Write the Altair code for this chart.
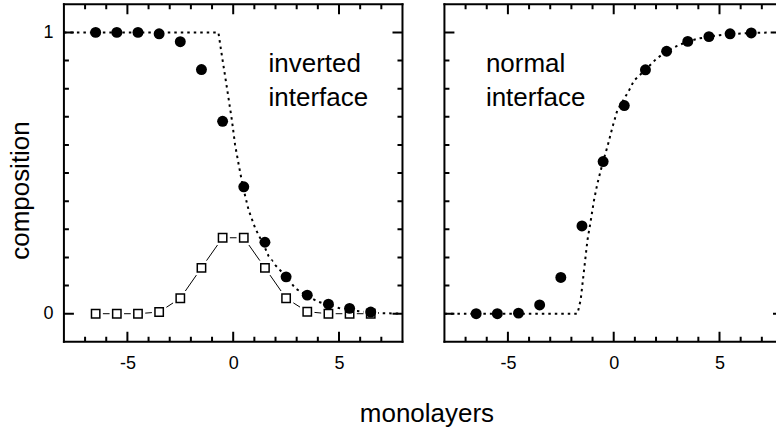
import altair as alt
import pandas as pd

# ---------------- data ----------------
X_PTS = [-6.5, -5.5, -4.5, -3.5, -2.5, -1.5, -0.5, 0.5, 1.5, 2.5, 3.5, 4.5, 5.5, 6.5]

INV_FILLED = [1.0, 1.0, 1.0, 0.995, 0.967, 0.868, 0.684, 0.451, 0.254, 0.131, 0.066, 0.034, 0.019, 0.006]
INV_OPEN = [0.0, 0.0, 0.0, 0.006, 0.055, 0.163, 0.270, 0.270, 0.163, 0.055, 0.007, 0.0, 0.0, 0.0]
NORM_FILLED = [0.0, 0.0, 0.002, 0.031, 0.129, 0.312, 0.541, 0.740, 0.867, 0.933, 0.968, 0.985, 0.995, 0.998]

INV_MODEL_X = [-8, -0.7, -0.54, -0.3, -0.06, 0.09, 0.25, 0.46, 0.73, 1.04, 1.5, 1.67, 2.0,
               2.5, 2.94, 3.5, 3.97, 4.5, 5.0, 5.5, 6.0, 6.5, 7.0, 8.0]
INV_MODEL_Y = [1.0, 1.0, 0.92, 0.805, 0.687, 0.60, 0.534, 0.451, 0.368, 0.304, 0.235, 0.205, 0.172,
               0.132, 0.09, 0.063, 0.044, 0.03, 0.02, 0.013, 0.008, 0.004, 0.002, 0.0]

NORM_MODEL_X = [-8, -1.71, -1.56, -1.40, -1.24, -1.08, -0.93, -0.77, -0.61, -0.45, -0.30, -0.06,
                0.17, 0.5, 0.72, 0.96, 1.5, 2.0, 2.5, 3.0, 3.5, 4.0, 4.5, 5.0, 5.5, 6.0, 6.5, 7.0, 8.0]
NORM_MODEL_Y = [0.0, 0.0, 0.05, 0.156, 0.262, 0.333, 0.404, 0.463, 0.51, 0.555, 0.593, 0.663,
                0.723, 0.765, 0.793, 0.829, 0.867, 0.905, 0.933, 0.952, 0.968, 0.978, 0.985, 0.99,
                0.994, 0.996, 0.998, 0.999, 1.0]

LABELS_LEFT = ["inverted", "interface"]
LABELS_RIGHT = ["normal", "interface"]
LABEL_X_LEFT = [1.67, 1.67]
LABEL_X_RIGHT = [-6.04, -6.04]
LABEL_Y = [0.86, 0.737]

X_MAJOR = [-5, 0, 5]
X_MINOR = [-7, -6, -4, -3, -2, -1, 1, 2, 3, 4, 6, 7]
Y_MAJOR = [0, 1]
Y_MINOR = [0.1, 0.2, 0.3, 0.4, 0.5, 0.6, 0.7, 0.8, 0.9]

# ---------------- styling ----------------
FONT = "Liberation Sans"
W, H = 339, 338          # full panel size
W_RIGHT = 332            # right panel is cut off by the picture's edge
XDOM = [-8, 8]
XDOM_RIGHT = [-8, -8 + 16 * W_RIGHT / W]
YDOM = [-0.1, 1.1]

yscale = alt.Scale(domain=YDOM, nice=False, zero=False)

xaxis = alt.Axis(values=X_MAJOR, ticks=False, tickSize=0, domain=False, grid=False,
                 labelFont=FONT, labelFontSize=18, labelColor="black", labelPadding=13,
                 labelExpr="'' + datum.value", title=None)

yaxis_left = alt.Axis(values=Y_MAJOR, ticks=False, tickSize=0, domain=False, grid=False,
                      labelFont=FONT, labelFontSize=18, labelColor="black", labelPadding=11,
                      labelExpr="'' + datum.value",
                      title="composition", titleFont=FONT, titleFontSize=26,
                      titleFontWeight="normal", titleColor="black", titleAngle=270,
                      titleBaseline="alphabetic", titleX=-35, titleY=186)


def panel(model_x, model_y, filled, open_pts, labels, label_x, yaxis, width, xdom, right_border):
    xscale = alt.Scale(domain=xdom, nice=False, zero=False)
    X = alt.X("x:Q", scale=xscale, axis=xaxis)
    Y = alt.Y("y:Q", scale=yscale, axis=yaxis)

    layers = []
    model = pd.DataFrame({"x": model_x, "y": model_y})
    layers.append(alt.Chart(model).mark_line(color="black", strokeWidth=2, strokeDash=[2.5, 4],
                                             clip=True)
                  .encode(x=X, y=Y))

    if open_pts is not None:
        opn = pd.DataFrame({"x": X_PTS, "y": open_pts})
        layers.append(alt.Chart(opn).mark_line(color="black", strokeWidth=1).encode(x=X, y=Y))
        layers.append(alt.Chart(opn).mark_square(color="white", opacity=1, size=210)
                      .encode(x=X, y=Y))
        layers.append(alt.Chart(opn).mark_point(shape="square", filled=False, fill="white",
                                                fillOpacity=1, stroke="black", strokeWidth=1.5,
                                                opacity=1, size=70)
                      .encode(x=X, y=Y))

    fl = pd.DataFrame({"x": X_PTS, "y": filled})
    layers.append(alt.Chart(fl).mark_circle(color="black", opacity=1, size=120).encode(x=X, y=Y))

    txt = pd.DataFrame({"x": label_x, "y": LABEL_Y, "t": labels})
    layers.append(alt.Chart(txt).mark_text(font=FONT, fontSize=26, align="left",
                                           baseline="alphabetic", color="black")
                  .encode(x=X, y=Y, text="t:N"))

    xmaj = pd.DataFrame({"x": X_MAJOR})
    xmin = pd.DataFrame({"x": X_MINOR})
    ymaj = pd.DataFrame({"y": Y_MAJOR})
    ymin = pd.DataFrame({"y": Y_MINOR})
    rule = dict(color="black", strokeWidth=2, clip=True)
    for df, ln in ((xmaj, 10), (xmin, 5)):
        layers.append(alt.Chart(df).mark_rule(**rule)
                      .encode(x=X, y=alt.value(H), y2=alt.value(H - ln)))
        layers.append(alt.Chart(df).mark_rule(**rule)
                      .encode(x=X, y=alt.value(0), y2=alt.value(ln)))
    for df, ln in ((ymaj, 10), (ymin, 5)):
        layers.append(alt.Chart(df).mark_rule(**rule)
                      .encode(y=Y, x=alt.value(0), x2=alt.value(ln)))
        layers.append(alt.Chart(df).mark_rule(**rule)
                      .encode(y=Y, x=alt.value(W), x2=alt.value(W - ln)))

    # frame, drawn as thin filled bars so the bounds stay exact
    one = pd.DataFrame({"k": [0]})
    bar = dict(color="black", strokeWidth=0)
    right_end = width + 1 if right_border else width
    layers.append(alt.Chart(one).mark_rect(**bar)
                  .encode(x=alt.value(-1), x2=alt.value(right_end),
                          y=alt.value(-1), y2=alt.value(1)))
    layers.append(alt.Chart(one).mark_rect(**bar)
                  .encode(x=alt.value(-1), x2=alt.value(right_end),
                          y=alt.value(H - 1), y2=alt.value(H + 1)))
    layers.append(alt.Chart(one).mark_rect(**bar)
                  .encode(x=alt.value(-1), x2=alt.value(1),
                          y=alt.value(-1), y2=alt.value(H + 1)))
    if right_border:
        layers.append(alt.Chart(one).mark_rect(**bar)
                      .encode(x=alt.value(width - 1), x2=alt.value(width + 1),
                              y=alt.value(-1), y2=alt.value(H + 1)))

    return alt.layer(*layers).properties(width=width, height=H)


left = panel(INV_MODEL_X, INV_MODEL_Y, INV_FILLED, INV_OPEN, LABELS_LEFT, LABEL_X_LEFT,
             yaxis_left, W, XDOM, True)
right = panel(NORM_MODEL_X, NORM_MODEL_Y, NORM_FILLED, None, LABELS_RIGHT, LABEL_X_RIGHT,
              None, W_RIGHT, XDOM_RIGHT, False)

chart = (
    alt.hconcat(left, right, spacing=40)
    .properties(
        title=alt.TitleParams("monolayers", orient="bottom", anchor="middle", font=FONT,
                              fontSize=26, fontWeight="normal", color="black", offset=28, dx=35),
        padding={"left": 8, "top": 3, "right": 0, "bottom": 0},
        background="white",
    )
    .configure_view(strokeWidth=0)
    .configure_axis(grid=False)
)

chart.save("out.html", embed_options={"renderer": "svg", "actions": False})
